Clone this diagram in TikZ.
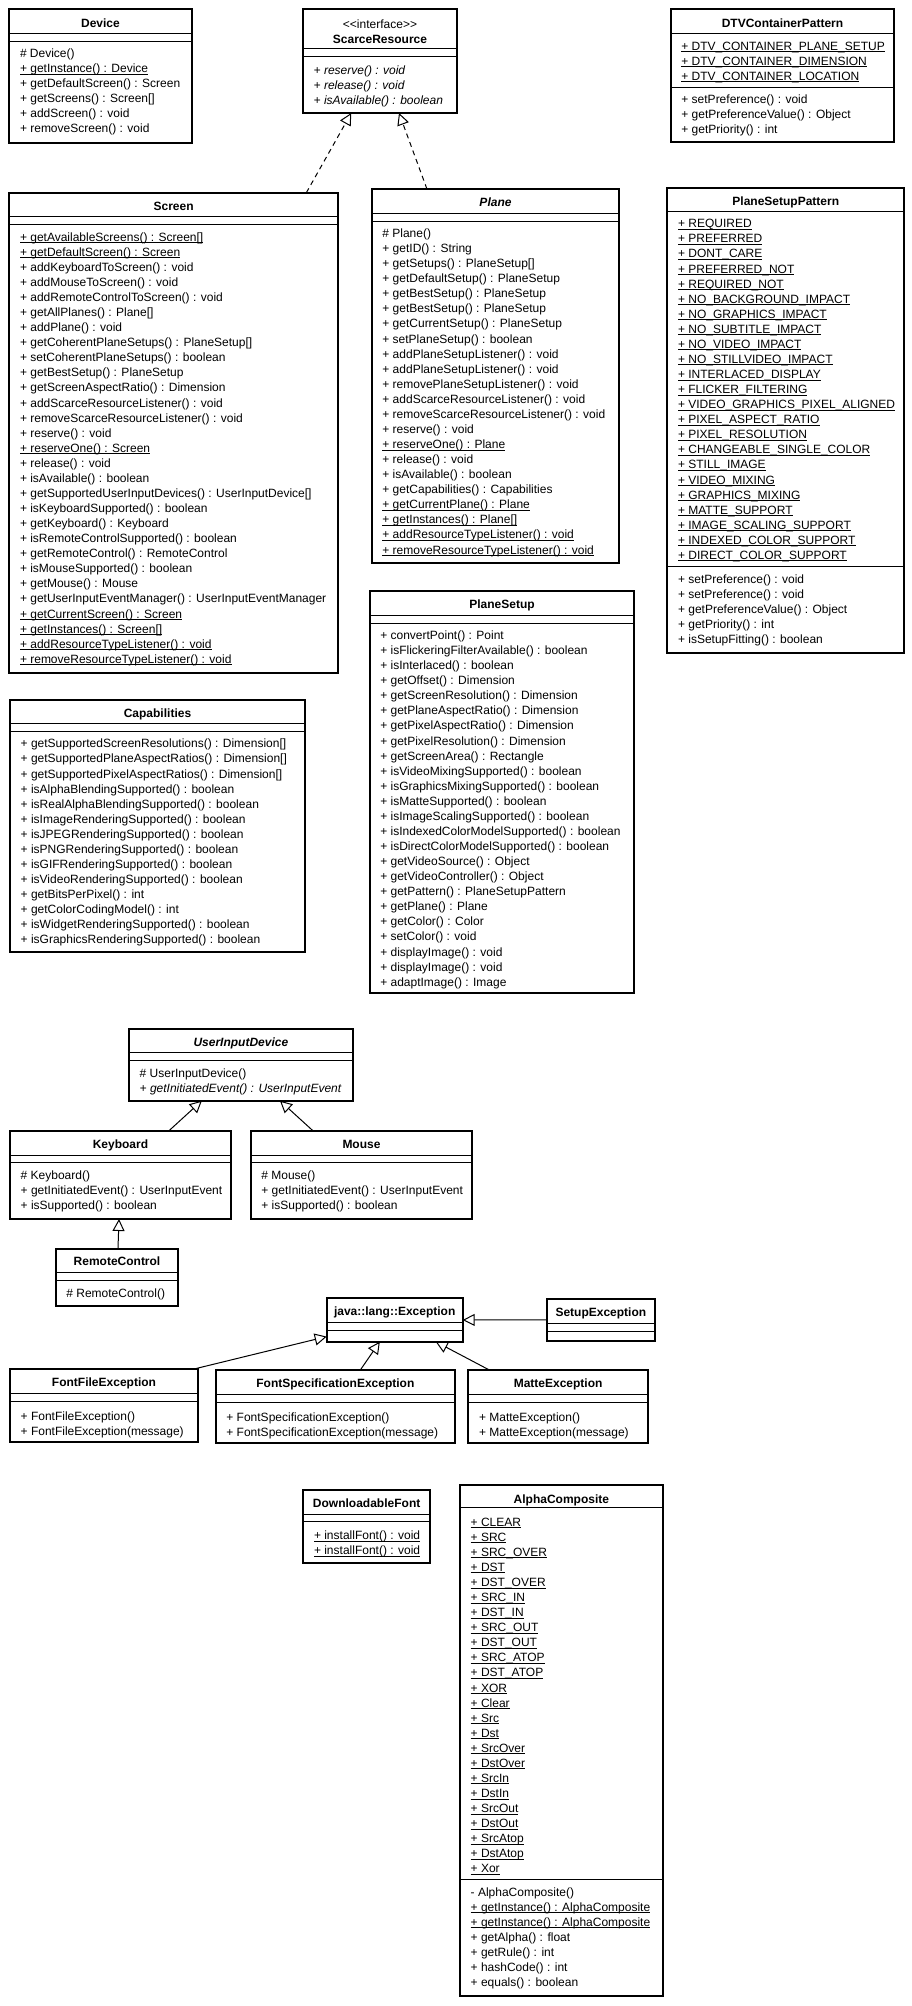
\documentclass[tikz,border=0pt]{standalone}
\usepackage{fontspec}
\setmainfont{Liberation Sans}
\usetikzlibrary{arrows.meta}
\newsavebox\ulbox
\newcommand\ul[1]{\sbox\ulbox{#1}\rlap{\rule[-1.9pt]{\wd\ulbox}{0.9pt}}\usebox\ulbox}
\newcommand\cl[1]{\strut#1}
\newcommand\cu[1]{\strut\ul{#1}}
\newcommand\umlbox[5]{\node[cbox, minimum width={(#4-#2)*1pt}, minimum height={(#5-#3)*1pt}] (#1) at ({(#2+#4)/2},{(#3+#5)/2}) {};}
\newcommand\hdiv[2]{\draw[dline] ([yshift=-#2pt]#1.north west) -- ([yshift=-#2pt]#1.north east);}
\newcommand\ttlnode[3]{\node[ttl] (#1-t) at ([yshift=-#2pt]#1.north) {#3};}
\newcommand\lstnode[4]{\node[lst] (#1-#2) at ([xshift=10.5pt,yshift=-#3pt]#1.north west) {#4};}
\tikzset{
  cbox/.style={draw, line width=2pt, fill=white, inner sep=0pt, outer sep=0pt, rectangle},
  dline/.style={line width=1pt},
  ttl/.style={anchor=base, inner sep=0pt, font=\fontsize{12}{15}\selectfont\bfseries},
  stereo/.style={anchor=base, inner sep=0pt, font=\fontsize{12}{15}\selectfont},
  lst/.style={anchor=north west, inner sep=0pt, align=left, font=\fontsize{12}{15.07}\selectfont},
  gen/.style={line width=1pt, -{Triangle[open, length=12pt, width=12pt, line width=1pt]}},
  real/.style={gen, dash pattern=on 5pt off 4pt},
}
\begin{document}
\begin{tikzpicture}[x=1pt,y=-1pt]
\fill[white] (0,0) rectangle (912,2006);
\useasboundingbox (0,0) rectangle (912,2006);

% ---------------- Device
\umlbox{device}{9.3}{9.3}{191.7}{143.3}
\hdiv{device}{24}\hdiv{device}{32}
\ttlnode{device}{17.7}{Device}
\lstnode{device}{ops}{37.5}{\cl{\# Device()}\\\cu{+ getInstance() : Device}\\\cl{+ getDefaultScreen() : Screen}\\\cl{+ getScreens() : Screen[]}\\\cl{+ addScreen() : void}\\\cl{+ removeScreen() : void}}

% ---------------- ScarceResource
\umlbox{scarce}{303}{9.3}{457}{113}
\hdiv{scarce}{38.7}\hdiv{scarce}{46.7}
\node[stereo] (scarce-s) at ([yshift=-19pt]scarce.north) {<\kern0pt<interface>\kern0pt>};
\ttlnode{scarce}{34}{ScarceResource}
\lstnode{scarce}{ops}{54.5}{\cl{\itshape + reserve() : void}\\\cl{\itshape + release() : void}\\\cl{\itshape + isAvailable() : boolean}}

% ---------------- DTVContainerPattern
\umlbox{dtv}{670.7}{9.3}{894.3}{141.7}
\hdiv{dtv}{24}\hdiv{dtv}{78}
\ttlnode{dtv}{17.7}{DTVContainerPattern}
\lstnode{dtv}{attr}{30.2}{\cu{+ DTV\_CONTAINER\_PLANE\_SETUP}\\\cu{+ DTV\_CONTAINER\_DIMENSION}\\\cu{+ DTV\_CONTAINER\_LOCATION}}
\lstnode{dtv}{ops}{83.8}{\cl{+ setPreference() : void}\\\cl{+ getPreferenceValue() : Object}\\\cl{+ getPriority() : int}}

% ---------------- Screen
\umlbox{screen}{9.3}{192.7}{338}{672.7}
\hdiv{screen}{24}\hdiv{screen}{31.6}
\ttlnode{screen}{17.3}{Screen}
\lstnode{screen}{ops}{37.8}{\cu{+ getAvailableScreens() : Screen[]}\\\cu{+ getDefaultScreen() : Screen}\\\cl{+ addKeyboardToScreen() : void}\\\cl{+ addMouseToScreen() : void}\\\cl{+ addRemoteControlToScreen() : void}\\\cl{+ getAllPlanes() : Plane[]}\\\cl{+ addPlane() : void}\\\cl{+ getCoherentPlaneSetups() : PlaneSetup[]}\\\cl{+ setCoherentPlaneSetups() : boolean}\\\cl{+ getBestSetup() : PlaneSetup}\\\cl{+ getScreenAspectRatio() : Dimension}\\\cl{+ addScarceResourceListener() : void}\\\cl{+ removeScarceResourceListener() : void}\\\cl{+ reserve() : void}\\\cu{+ reserveOne() : Screen}\\\cl{+ release() : void}\\\cl{+ isAvailable() : boolean}\\\cl{+ getSupportedUserInputDevices() : UserInputDevice[]}\\\cl{+ isKeyboardSupported() : boolean}\\\cl{+ getKeyboard() : Keyboard}\\\cl{+ isRemoteControlSupported() : boolean}\\\cl{+ getRemoteControl() : RemoteControl}\\\cl{+ isMouseSupported() : boolean}\\\cl{+ getMouse() : Mouse}\\\cl{+ getUserInputEventManager() : UserInputEventManager}\\\cu{+ getCurrentScreen() : Screen}\\\cu{+ getInstances() : Screen[]}\\\cu{+ addResourceTypeListener() : void}\\\cu{+ removeResourceTypeListener() : void}}

% ---------------- Plane
\umlbox{plane}{371.7}{189}{619.3}{563}
\hdiv{plane}{24}\hdiv{plane}{32}
\ttlnode{plane}{17.3}{\itshape Plane}
\lstnode{plane}{ops}{37.8}{\cl{\# Plane()}\\\cl{+ getID() : String}\\\cl{+ getSetups() : PlaneSetup[]}\\\cl{+ getDefaultSetup() : PlaneSetup}\\\cl{+ getBestSetup() : PlaneSetup}\\\cl{+ getBestSetup() : PlaneSetup}\\\cl{+ getCurrentSetup() : PlaneSetup}\\\cl{+ setPlaneSetup() : boolean}\\\cl{+ addPlaneSetupListener() : void}\\\cl{+ addPlaneSetupListener() : void}\\\cl{+ removePlaneSetupListener() : void}\\\cl{+ addScarceResourceListener() : void}\\\cl{+ removeScarceResourceListener() : void}\\\cl{+ reserve() : void}\\\cu{+ reserveOne() : Plane}\\\cl{+ release() : void}\\\cl{+ isAvailable() : boolean}\\\cl{+ getCapabilities() : Capabilities}\\\cu{+ getCurrentPlane() : Plane}\\\cu{+ getInstances() : Plane[]}\\\cu{+ addResourceTypeListener() : void}\\\cu{+ removeResourceTypeListener() : void}}

% ---------------- PlaneSetupPattern
\umlbox{psp}{667.3}{188.3}{904.3}{653.3}
\hdiv{psp}{23.4}\hdiv{psp}{378.4}
\ttlnode{psp}{16.7}{PlaneSetupPattern}
\lstnode{psp}{attr}{28.8}{\cu{+ REQUIRED}\\\cu{+ PREFERRED}\\\cu{+ DONT\_CARE}\\\cu{+ PREFERRED\_NOT}\\\cu{+ REQUIRED\_NOT}\\\cu{+ NO\_BACKGROUND\_IMPACT}\\\cu{+ NO\_GRAPHICS\_IMPACT}\\\cu{+ NO\_SUBTITLE\_IMPACT}\\\cu{+ NO\_VIDEO\_IMPACT}\\\cu{+ NO\_STILLVIDEO\_IMPACT}\\\cu{+ INTERLACED\_DISPLAY}\\\cu{+ FLICKER\_FILTERING}\\\cu{+ VIDEO\_GRAPHICS\_PIXEL\_ALIGNED}\\\cu{+ PIXEL\_ASPECT\_RATIO}\\\cu{+ PIXEL\_RESOLUTION}\\\cu{+ CHANGEABLE\_SINGLE\_COLOR}\\\cu{+ STILL\_IMAGE}\\\cu{+ VIDEO\_MIXING}\\\cu{+ GRAPHICS\_MIXING}\\\cu{+ MATTE\_SUPPORT}\\\cu{+ IMAGE\_SCALING\_SUPPORT}\\\cu{+ INDEXED\_COLOR\_SUPPORT}\\\cu{+ DIRECT\_COLOR\_SUPPORT}}
\lstnode{psp}{ops}{384.5}{\cl{+ setPreference() : void}\\\cl{+ setPreference() : void}\\\cl{+ getPreferenceValue() : Object}\\\cl{+ getPriority() : int}\\\cl{+ isSetupFitting() : boolean}}

% ---------------- PlaneSetup
\umlbox{ps}{369.6}{591}{634.4}{993}
\hdiv{ps}{24}\hdiv{ps}{32}
\ttlnode{ps}{17.3}{PlaneSetup}
\lstnode{ps}{ops}{37.8}{\cl{+ convertPoint() : Point}\\\cl{+ isFlickeringFilterAvailable() : boolean}\\\cl{+ isInterlaced() : boolean}\\\cl{+ getOffset() : Dimension}\\\cl{+ getScreenResolution() : Dimension}\\\cl{+ getPlaneAspectRatio() : Dimension}\\\cl{+ getPixelAspectRatio() : Dimension}\\\cl{+ getPixelResolution() : Dimension}\\\cl{+ getScreenArea() : Rectangle}\\\cl{+ isVideoMixingSupported() : boolean}\\\cl{+ isGraphicsMixingSupported() : boolean}\\\cl{+ isMatteSupported() : boolean}\\\cl{+ isImageScalingSupported() : boolean}\\\cl{+ isIndexedColorModelSupported() : boolean}\\\cl{+ isDirectColorModelSupported() : boolean}\\\cl{+ getVideoSource() : Object}\\\cl{+ getVideoController() : Object}\\\cl{+ getPattern() : PlaneSetupPattern}\\\cl{+ getPlane() : Plane}\\\cl{+ getColor() : Color}\\\cl{+ setColor() : void}\\\cl{+ displayImage() : void}\\\cl{+ displayImage() : void}\\\cl{+ adaptImage() : Image}}

% ---------------- Capabilities
\umlbox{cap}{10}{700}{305}{951.7}
\hdiv{cap}{23}\hdiv{cap}{31}
\ttlnode{cap}{17}{Capabilities}
\lstnode{cap}{ops}{37.1}{\cl{+ getSupportedScreenResolutions() : Dimension[]}\\\cl{+ getSupportedPlaneAspectRatios() : Dimension[]}\\\cl{+ getSupportedPixelAspectRatios() : Dimension[]}\\\cl{+ isAlphaBlendingSupported() : boolean}\\\cl{+ isRealAlphaBlendingSupported() : boolean}\\\cl{+ isImageRenderingSupported() : boolean}\\\cl{+ isJPEGRenderingSupported() : boolean}\\\cl{+ isPNGRenderingSupported() : boolean}\\\cl{+ isGIFRenderingSupported() : boolean}\\\cl{+ isVideoRenderingSupported() : boolean}\\\cl{+ getBitsPerPixel() : int}\\\cl{+ getColorCodingModel() : int}\\\cl{+ isWidgetRenderingSupported() : boolean}\\\cl{+ isGraphicsRenderingSupported() : boolean}}

% ---------------- UserInputDevice
\umlbox{uid}{129}{1029.3}{352.7}{1100.7}
\hdiv{uid}{23.4}\hdiv{uid}{31}
\ttlnode{uid}{16.7}{\itshape UserInputDevice}
\lstnode{uid}{ops}{37.2}{\cl{\# UserInputDevice()}\\\cl{\itshape + getInitiatedEvent() : UserInputEvent}}

% ---------------- Keyboard
\umlbox{kbd}{10}{1131}{231}{1219}
\hdiv{kbd}{24}\hdiv{kbd}{31.7}
\ttlnode{kbd}{17.6}{Keyboard}
\lstnode{kbd}{ops}{37.8}{\cl{\# Keyboard()}\\\cl{+ getInitiatedEvent() : UserInputEvent}\\\cl{+ isSupported() : boolean}}

% ---------------- Mouse
\umlbox{mouse}{250.7}{1131}{472.3}{1219}
\hdiv{mouse}{24}\hdiv{mouse}{31.7}
\ttlnode{mouse}{17.6}{Mouse}
\lstnode{mouse}{ops}{37.8}{\cl{\# Mouse()}\\\cl{+ getInitiatedEvent() : UserInputEvent}\\\cl{+ isSupported() : boolean}}

% ---------------- RemoteControl
\umlbox{remote}{55.7}{1249}{178.3}{1305.7}
\hdiv{remote}{23.3}\hdiv{remote}{31}
\ttlnode{remote}{16.3}{RemoteControl}
\lstnode{remote}{ops}{37.5}{\cl{\# RemoteControl()}}

% ---------------- Exceptions
\umlbox{java}{326.7}{1298.3}{462.7}{1341.7}
\hdiv{java}{24}\hdiv{java}{32.4}
\ttlnode{java}{17.3}{java::lang::Exception}

\umlbox{setup}{546.7}{1299}{655}{1340.7}
\hdiv{setup}{24}\hdiv{setup}{32.4}
\ttlnode{setup}{17.3}{SetupException}

\umlbox{ffe}{10}{1369}{198}{1442}
\hdiv{ffe}{24.3}\hdiv{ffe}{32.3}
\ttlnode{ffe}{17.6}{FontFileException}
\lstnode{ffe}{ops}{40.3}{\cl{+ FontFileException()}\\\cl{+ FontFileException(message)}}

\umlbox{fse}{215.7}{1370}{455}{1442.7}
\hdiv{fse}{24.3}\hdiv{fse}{32.3}
\ttlnode{fse}{17.6}{FontSpecificationException}
\lstnode{fse}{ops}{40.3}{\cl{+ FontSpecificationException()}\\\cl{+ FontSpecificationException(message)}}

\umlbox{matte}{468.3}{1370}{648}{1442.7}
\hdiv{matte}{24.3}\hdiv{matte}{32.3}
\ttlnode{matte}{17.6}{MatteException}
\lstnode{matte}{ops}{40.3}{\cl{+ MatteException()}\\\cl{+ MatteException(message)}}

% ---------------- DownloadableFont
\umlbox{dlf}{303.3}{1490}{430}{1562.7}
\hdiv{dlf}{24}\hdiv{dlf}{31.7}
\ttlnode{dlf}{17.6}{DownloadableFont}
\lstnode{dlf}{ops}{38.8}{\cu{+ installFont() : void}\\\cu{+ installFont() : void}}

% ---------------- AlphaComposite
\umlbox{ac}{460}{1485}{662.7}{1995.7}
\hdiv{ac}{22.7}\hdiv{ac}{394.3}
\ttlnode{ac}{18.3}{AlphaComposite}
\lstnode{ac}{attr}{30.5}{\cu{+ CLEAR}\\\cu{+ SRC}\\\cu{+ SRC\_OVER}\\\cu{+ DST}\\\cu{+ DST\_OVER}\\\cu{+ SRC\_IN}\\\cu{+ DST\_IN}\\\cu{+ SRC\_OUT}\\\cu{+ DST\_OUT}\\\cu{+ SRC\_ATOP}\\\cu{+ DST\_ATOP}\\\cu{+ XOR}\\\cu{+ Clear}\\\cu{+ Src}\\\cu{+ Dst}\\\cu{+ SrcOver}\\\cu{+ DstOver}\\\cu{+ SrcIn}\\\cu{+ DstIn}\\\cu{+ SrcOut}\\\cu{+ DstOut}\\\cu{+ SrcAtop}\\\cu{+ DstAtop}\\\cu{+ Xor}}
\lstnode{ac}{ops}{400.5}{\cl{- AlphaComposite()}\\\cu{+ getInstance() : AlphaComposite}\\\cu{+ getInstance() : AlphaComposite}\\\cl{+ getAlpha() : float}\\\cl{+ getRule() : int}\\\cl{+ hashCode() : int}\\\cl{+ equals() : boolean}}

% ---------------- Connectors
\draw[real] (screen) -- (scarce);
\draw[real] (plane) -- (scarce);
\draw[gen] (kbd) -- (uid);
\draw[gen] (mouse) -- (uid);
\draw[gen] (remote) -- (kbd);
\draw[gen] ([xshift=-4pt]ffe.north east) -- (java);
\draw[gen] (fse) -- (java);
\draw[gen] (matte) -- (java);
\draw[gen] (setup) -- (java);
\end{tikzpicture}
\end{document}
